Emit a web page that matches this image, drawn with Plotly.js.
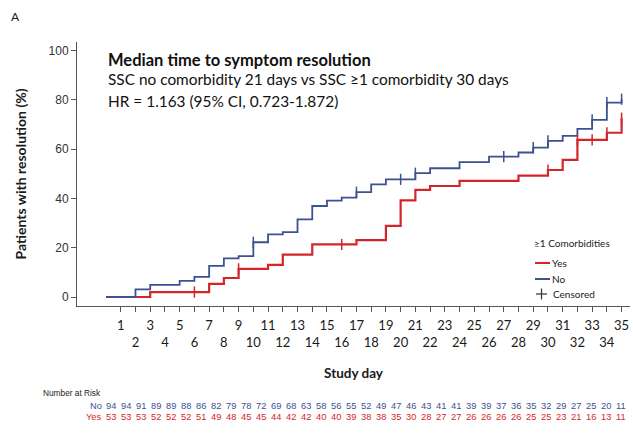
<!DOCTYPE html>
<html>
<head>
<meta charset="utf-8">
<script src="https://cdn.plot.ly/plotly-3.0.1.min.js"></script>
<style>html,body{margin:0;padding:0;background:#fff;}#chart{width:633px;height:433px;}</style>
</head>
<body>
<div id="chart"></div>
<script>
// ---- Data ----
const noTimes  = [0, 2, 3, 5, 6, 7, 8, 9, 10, 11, 12, 13, 14, 15, 16, 17, 18, 19, 21, 22, 24, 26, 28, 29, 30, 31, 32, 33, 34, 35];
const noPct    = [0, 3.1, 4.9, 6.5, 8.2, 12.6, 15.7, 16.6, 22.2, 25.4, 26.3, 31.5, 36.9, 39.1, 40.3, 42.5, 45.7, 47.7, 50.2, 52.2, 54.7, 56.9, 58.6, 60.6, 63.3, 65.3, 68.2, 71.8, 78.8, 80.2];
const noCensor = [10, 17, 20, 21, 27, 29, 30, 33, 34, 35];

const yesTimes  = [0, 3, 7, 8, 9, 11, 12, 14, 17, 19, 20, 21, 22, 24, 28, 30, 31, 32, 34, 35];
const yesPct    = [0, 2.0, 5.3, 7.7, 11.4, 13.0, 17.2, 21.3, 23.1, 28.8, 39.2, 43.4, 45.0, 47.1, 49.2, 51.5, 55.6, 63.7, 66.6, 72.5];
const yesCensor = [6, 9, 16, 30, 32, 33, 34, 35];

const oddDays  = [1,3,5,7,9,11,13,15,17,19,21,23,25,27,29,31,33,35];
const evenDays = [2,4,6,8,10,12,14,16,18,20,22,24,26,28,30,32,34];
const allDays  = oddDays.concat(evenDays).sort((a, b) => a - b);

const riskNo  = [94,94,91,89,89,88,86,82,79,78,72,69,68,63,58,56,55,52,49,47,46,43,41,41,39,39,37,36,35,32,29,27,25,20,11];
const riskYes = [53,53,53,52,52,52,51,49,48,45,45,44,42,42,40,40,39,38,38,35,30,28,27,27,26,26,26,26,25,25,23,21,16,13,11];

const legendTitle = '≥1 Comorbidities';
const legendLabels = ['Yes', 'No', 'Censored'];

// ---- helpers ----
function stepAt(times, pct, t) {
  let v = pct[0];
  for (let i = 0; i < times.length; i++) { if (times[i] <= t) v = pct[i]; }
  return v;
}
const PX = px => (px - 77) / 553;   // pixel -> paper x
const PY = py => (306 - py) / 264;  // pixel -> paper y

const RED = '#d4252b';
const BLUE = '#3c5192';
const AXIS = '#555555';
const TXT = '#1a1a1a';
const SANS = 'Liberation Sans, Arial, sans-serif';
const HUM = 'Lato, Open Sans, sans-serif';

const traces = [
  {x: yesTimes, y: yesPct, mode: 'lines', line: {shape: 'hv', color: RED, width: 2.2}, name: 'Yes', hoverinfo: 'skip'},
  {x: noTimes, y: noPct, mode: 'lines', line: {shape: 'hv', color: BLUE, width: 1.8}, name: 'No', hoverinfo: 'skip'},
  {x: yesCensor, y: yesCensor.map(t => stepAt(yesTimes, yesPct, t)), mode: 'markers',
   marker: {symbol: 'line-ns-open', size: 8, color: RED, line: {color: RED, width: 1.5}}, hoverinfo: 'skip'},
  {x: noCensor, y: noCensor.map(t => stepAt(noTimes, noPct, t)), mode: 'markers',
   marker: {symbol: 'line-ns-open', size: 8, color: BLUE, line: {color: BLUE, width: 1.5}}, hoverinfo: 'skip'},
  {x: [0], y: [0], xaxis: 'x2', mode: 'none', hoverinfo: 'skip'},
  {x: [1], y: [0], xaxis: 'x3', mode: 'none', hoverinfo: 'skip'}
];

const annotations = [
  {text: 'A', xref: 'paper', yref: 'paper', x: PX(9), y: PY(17), xanchor: 'left', yanchor: 'middle',
   showarrow: false, font: {family: HUM, size: 12, color: TXT}},
  {text: '<b>Median time to symptom resolution</b>', xref: 'paper', yref: 'paper', x: PX(106), y: PY(60),
   xanchor: 'left', yanchor: 'middle', showarrow: false, font: {family: HUM, size: 16.5, color: '#111'}},
  {text: 'SSC no comorbidity 21 days vs SSC ≥1 comorbidity 30 days', xref: 'paper', yref: 'paper', x: PX(106), y: PY(79),
   xanchor: 'left', yanchor: 'middle', showarrow: false, font: {family: HUM, size: 15.4, color: '#111'}},
  {text: 'HR = 1.163 (95% CI, 0.723-1.872)', xref: 'paper', yref: 'paper', x: PX(106), y: PY(101),
   xanchor: 'left', yanchor: 'middle', showarrow: false, font: {family: HUM, size: 15.4, color: '#111'}},
  {text: 'Number at Risk', xref: 'paper', yref: 'paper', x: PX(103), y: PY(393),
   xanchor: 'right', yanchor: 'middle', showarrow: false, font: {family: SANS, size: 8.3, color: '#222'}},
  {text: 'No', xref: 'paper', yref: 'paper', x: PX(104), y: PY(406),
   xanchor: 'right', yanchor: 'middle', showarrow: false, font: {family: SANS, size: 9.3, color: BLUE}},
  {text: 'Yes', xref: 'paper', yref: 'paper', x: PX(104), y: PY(417),
   xanchor: 'right', yanchor: 'middle', showarrow: false, font: {family: SANS, size: 9.3, color: RED}},
  // manual legend
  {text: legendTitle, xref: 'paper', yref: 'paper', x: PX(532), y: PY(243),
   xanchor: 'left', yanchor: 'middle', showarrow: false, font: {family: HUM, size: 10, color: TXT}},
  {text: legendLabels[0], xref: 'paper', yref: 'paper', x: PX(550), y: PY(263),
   xanchor: 'left', yanchor: 'middle', showarrow: false, font: {family: HUM, size: 10, color: TXT}},
  {text: legendLabels[1], xref: 'paper', yref: 'paper', x: PX(550), y: PY(279),
   xanchor: 'left', yanchor: 'middle', showarrow: false, font: {family: HUM, size: 10, color: TXT}},
  {text: legendLabels[2], xref: 'paper', yref: 'paper', x: PX(551), y: PY(294),
   xanchor: 'left', yanchor: 'middle', showarrow: false, font: {family: HUM, size: 10, color: TXT}}
];
riskNo.forEach((v, i) => annotations.push({text: String(v), xref: 'x2', yref: 'paper', x: i, y: PY(406),
  xanchor: 'center', yanchor: 'middle', showarrow: false, font: {family: SANS, size: 9.3, color: BLUE}}));
riskYes.forEach((v, i) => annotations.push({text: String(v), xref: 'x2', yref: 'paper', x: i, y: PY(417),
  xanchor: 'center', yanchor: 'middle', showarrow: false, font: {family: SANS, size: 9.3, color: RED}}));

const shapes = [
  {type: 'line', xref: 'paper', yref: 'paper', x0: PX(535), x1: PX(550), y0: PY(263), y1: PY(263), line: {color: RED, width: 2}},
  {type: 'line', xref: 'paper', yref: 'paper', x0: PX(535), x1: PX(550), y0: PY(279), y1: PY(279), line: {color: BLUE, width: 2}},
  {type: 'line', xref: 'paper', yref: 'paper', x0: PX(536), x1: PX(547), y0: PY(294), y1: PY(294), line: {color: '#333', width: 1.2}},
  {type: 'line', xref: 'paper', yref: 'paper', x0: PX(541.5), x1: PX(541.5), y0: PY(288.5), y1: PY(299.5), line: {color: '#333', width: 1.2}}
];

const layout = {
  width: 633, height: 433,
  margin: {l: 77, r: 3, t: 42, b: 127},
  paper_bgcolor: '#fff', plot_bgcolor: '#fff',
  showlegend: false,
  xaxis: {
    range: [-1.97, 35.57], tickvals: allDays,
    ticktext: allDays.map(d => oddDays.includes(d) ? String(d) : ''),
    tickangle: 0, ticklabelstandoff: 2,
    ticks: 'outside', ticklen: 5, tickcolor: AXIS, tickwidth: 1,
    showline: true, linecolor: AXIS, linewidth: 1, showgrid: false, zeroline: false,
    tickfont: {family: HUM, size: 13, color: TXT},
    title: {text: '<b>Study day</b>', font: {family: HUM, size: 13.5, color: TXT}, standoff: 36}
  },
  xaxis2: {overlaying: 'x', range: [-2.267, 34.6], visible: false},
  xaxis3: {
    overlaying: 'x', anchor: 'y', side: 'bottom', range: [-1.97, 35.57],
    tickvals: evenDays, ticktext: evenDays.map(String), tickangle: 0,
    ticks: '', showline: false, showgrid: false, zeroline: false,
    ticklabelstandoff: 27,
    tickfont: {family: HUM, size: 13, color: TXT}
  },
  yaxis: {
    range: [-3.65, 103.4], tickvals: [0, 20, 40, 60, 80, 100],
    ticks: 'outside', ticklen: 5, tickcolor: AXIS, tickwidth: 1,
    showline: true, linecolor: AXIS, linewidth: 1, showgrid: false, zeroline: false,
    tickfont: {family: SANS, size: 12, color: '#333'},
    title: {text: '<b>Patients with resolution (%)</b>', font: {family: HUM, size: 14, color: TXT}, standoff: 18}
  },
  annotations: annotations,
  shapes: shapes
};

Plotly.newPlot('chart', traces, layout, {displayModeBar: false, staticPlot: true});
</script>
</body>
</html>
